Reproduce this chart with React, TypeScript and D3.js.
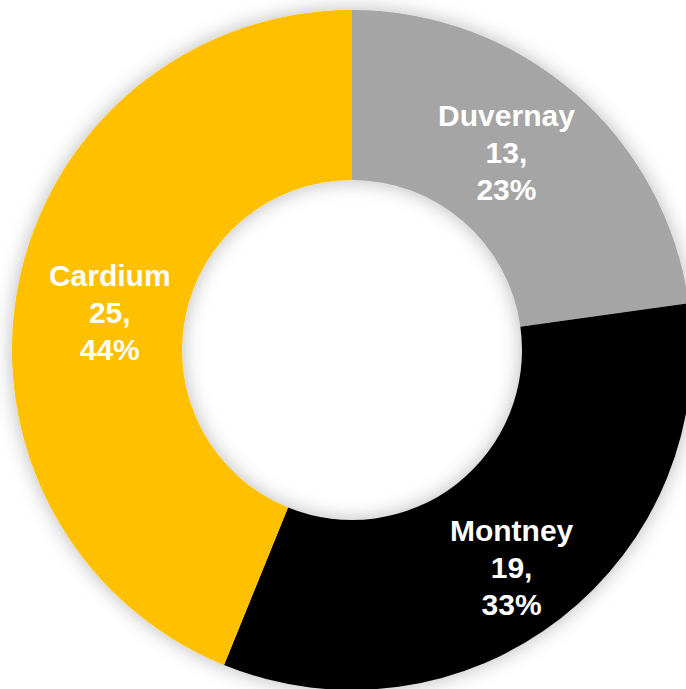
import React from "react";
import * as d3 from "d3";

const categories = ["Duvernay", "Montney", "Cardium"];
const values = [13, 19, 25];
const colors = ["#A5A5A5", "#000000", "#FFC000"];
// small label nudges relative to the arc centroid (as placed in the original)
const labelNudgeX = [-13, 3, 8];
const labelNudgeY = [5, 27, 22];

const W = 686;
const H = 689;

export default function App() {
  const cx = 352;
  const cy = 350;
  const outerR = 340;
  const innerR = 170;
  const total = d3.sum(values);
  const pie = d3.pie<number>().sort(null).value((d) => d);
  const arcs = pie(values);
  const arc = d3.arc<d3.PieArcDatum<number>>().innerRadius(innerR).outerRadius(outerR);
  const fmt = d3.format(".0%");
  const lineH = 37;
  return (
    <svg
      width={W}
      height={H}
      style={{ position: "absolute", left: 0, top: 0, background: "#fff" }}
    >
      <defs>
        <filter id="sh" x="-20%" y="-20%" width="140%" height="140%">
          <feDropShadow dx="0" dy="0" stdDeviation="10" floodColor="#000" floodOpacity="0.28" />
        </filter>
      </defs>
      <g transform={`translate(${cx},${cy})`}>
        <g filter="url(#sh)">
          {arcs.map((a, i) => (
            <path key={i} d={arc(a) || ""} fill={colors[i]} />
          ))}
        </g>
        {arcs.map((a, i) => {
          const [x0, y0] = arc.centroid(a);
          const x = x0 + labelNudgeX[i];
          const y = y0 + labelNudgeY[i];
          const lines = [categories[i], `${values[i]},`, fmt(values[i] / total)];
          return (
            <text
              key={"t" + i}
              x={x}
              y={y}
              textAnchor="middle"
              fill="#fff"
              fontFamily="'Liberation Sans', Arial, sans-serif"
              fontWeight="bold"
              fontSize={30}
            >
              {lines.map((l, j) => (
                <tspan key={j} x={x} y={y + (j - 1) * lineH}>
                  {l}
                </tspan>
              ))}
            </text>
          );
        })}
      </g>
    </svg>
  );
}
